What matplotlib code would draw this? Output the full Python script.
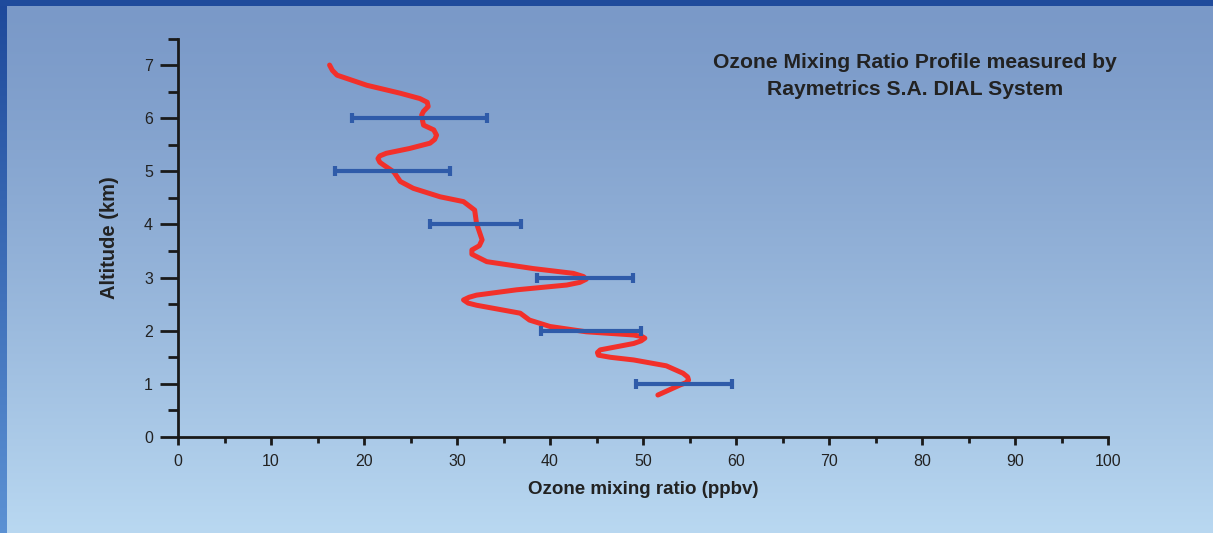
import numpy as np
import matplotlib
matplotlib.use("Agg")
from matplotlib import pyplot as plt
from matplotlib.patches import Rectangle

# Data: ozone profile (ppbv) vs altitude (km)
ozone = [16.3, 16.6, 17.1, 20.3, 23.9, 26.0, 26.8, 26.9, 26.4, 26.2, 26.3, 26.4,
         27.5, 27.8, 27.6, 27.1, 24.9, 22.4, 21.7, 21.5, 21.7, 22.1, 23.2, 23.9,
         25.3, 28.2, 30.7, 31.9, 32.1, 32.7, 32.4, 31.6, 31.6, 33.2, 38.2, 42.5,
         43.6, 43.9, 43.2, 41.8, 36.4, 32.1, 31.3, 30.7, 31.2, 32.1, 36.8, 37.8,
         40.0, 43.9, 49.0, 49.9, 50.2, 49.8, 49.0, 45.4, 45.1, 45.2, 46.5, 49.0,
         52.5, 54.3, 54.8, 54.9, 54.6, 54.0, 51.6]
altitude = [7.00, 6.90, 6.81, 6.62, 6.47, 6.37, 6.30, 6.22, 6.13, 6.06, 5.95, 5.87,
            5.78, 5.68, 5.60, 5.53, 5.43, 5.34, 5.29, 5.24, 5.17, 5.12, 4.99, 4.81,
            4.68, 4.52, 4.43, 4.27, 4.02, 3.71, 3.60, 3.52, 3.44, 3.30, 3.17, 3.08,
            3.02, 2.97, 2.91, 2.86, 2.77, 2.67, 2.63, 2.58, 2.52, 2.48, 2.33, 2.20,
            2.08, 1.98, 1.92, 1.89, 1.86, 1.81, 1.76, 1.64, 1.59, 1.54, 1.50, 1.45,
            1.34, 1.20, 1.13, 1.07, 1.02, 0.98, 0.79]

# Error bars
err_alt = [6, 5, 4, 3, 2, 1]
err_center = [26.0, 23.05, 32.0, 43.75, 44.4, 54.4]
err_half = [7.25, 6.15, 4.9, 5.15, 5.4, 5.2]

fig = plt.figure(figsize=(12.13, 5.33), dpi=100)

# Background gradient
bg = fig.add_axes([0, 0, 1, 1])
t = np.linspace(0, 1, 256).reshape(-1, 1)
top = np.array([0.478, 0.600, 0.784])
bot = np.array([0.725, 0.847, 0.945])
grad = top + (bot - top) * t[..., None] ** 1.3
grad = np.repeat(grad, 2, axis=1)
bg.imshow(grad, aspect="auto", extent=[0, 1, 0, 1], origin="upper")
# dark border on top and left
bg.add_patch(Rectangle((0, 1 - 6 / 533), 1, 6 / 533, color="#1f4b9c", lw=0))
lt = np.array([0.12, 0.29, 0.61])
lb = np.array([0.36, 0.57, 0.83])
lgrad = lt + (lb - lt) * t[..., None]
bg.imshow(lgrad, aspect="auto", extent=[0, 7 / 1213, 0, 1 - 6 / 533], origin="upper")
bg.set_xlim(0, 1)
bg.set_ylim(0, 1)
bg.axis("off")

ax = fig.add_axes([178 / 1213, 1 - 437 / 533, 930 / 1213, (437 - 38.5) / 533])
ax.patch.set_alpha(0)

ax.plot(ozone, altitude, color="#f2302a", lw=3.6, solid_capstyle="round",
        solid_joinstyle="round", zorder=2)
ax.errorbar(err_center, err_alt, xerr=err_half, fmt="none", ecolor="#2f5ba9",
            elinewidth=3, capsize=3.5, capthick=3, zorder=3)

ax.set_xlim(0, 100)
ax.set_ylim(0, 7.5)
ax.set_xticks(range(0, 101, 10))
ax.set_xticks(range(5, 100, 10), minor=True)
ax.set_yticks(range(0, 8))
ax.set_yticks(np.arange(0.5, 7.6, 1), minor=True)

for s in ["top", "right"]:
    ax.spines[s].set_visible(False)
for s in ["left", "bottom"]:
    ax.spines[s].set_linewidth(2)
    ax.spines[s].set_color("#1a1a1a")

font = "Liberation Sans"
ax.tick_params(axis="y", which="major", length=13, width=2, color="#1a1a1a",
               labelsize=11.5, labelcolor="#222222", pad=5)
ax.tick_params(axis="y", which="minor", length=7, width=2, color="#1a1a1a")
ax.tick_params(axis="x", which="major", length=6, width=2, color="#1a1a1a",
               labelsize=11.5, labelcolor="#222222", pad=6)
ax.tick_params(axis="x", which="minor", length=4, width=2, color="#1a1a1a")
for lab in ax.get_xticklabels() + ax.get_yticklabels():
    lab.set_family(font)

ax.set_xlabel("Ozone mixing ratio (ppbv)", fontsize=13.5, fontweight="bold",
              family=font, color="#222222", labelpad=9)
ax.set_ylabel("Altitude (km)", fontsize=14.5, fontweight="bold",
              family=font, color="#222222", labelpad=18)

fig.text(915 / 1213, 1 - 76 / 533,
         "Ozone Mixing Ratio Profile measured by\nRaymetrics S.A. DIAL System",
         ha="center", va="center", fontsize=15.2, fontweight="bold", family=font,
         color="#222222", linespacing=1.5)

fig.savefig("out.png", dpi=100)
